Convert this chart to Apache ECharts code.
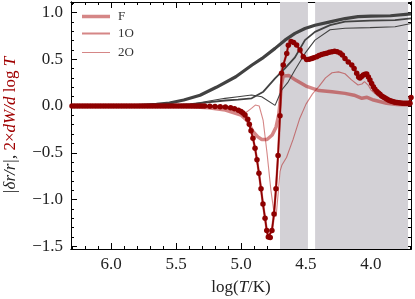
<!DOCTYPE html>
<html><head><meta charset="utf-8">
<script src="https://cdn.jsdelivr.net/npm/echarts@6/dist/echarts.min.js"></script>
<style>html,body{margin:0;padding:0;background:#fff}#c{width:415px;height:299px}</style>
</head><body><div id="c"></div>
<script>
// ---- tick values ----
const xMajorTicks = [4.0, 4.5, 5.0, 5.5, 6.0];
const xMinorTicks = [3.7,3.8,3.9,4.1,4.2,4.3,4.4,4.6,4.7,4.8,4.9,5.1,5.2,5.3,5.4,5.6,5.7,5.8,5.9,6.1,6.2,6.3];
const yMajorTicks = [-1.5, -1.0, -0.5, 0.0, 0.5, 1.0];
const yMinorTicks = [-1.4,-1.3,-1.2,-1.1,-0.9,-0.8,-0.7,-0.6,-0.4,-0.3,-0.2,-0.1,0.1,0.2,0.3,0.4,0.6,0.7,0.8,0.9,1.1];
const legendNames = ['F', '1O', '2O'];
// shaded bands [from, to] in log T
const band1 = [4.70, 4.485];
const band2 = [4.43, 3.715];

// ---- |dr/r| (gray) ----
const grayFLogT = [6.31,5.8,5.65,5.55,5.44,5.315,5.19,5.04,4.915,4.838,4.738,4.662,4.585,4.508,4.431,4.315,4.2,4.1,4.0,3.85,3.692];
const grayFVal  = [0,0.005,0.018,0.032,0.064,0.115,0.2,0.313,0.438,0.509,0.616,0.704,0.776,0.829,0.864,0.9,0.935,0.955,0.962,0.965,0.985];
const gray1OLogT = [6.31,5.6,5.392,5.277,5.123,5.023,4.918,4.828,4.738,4.662,4.585,4.508,4.431,4.315,4.2,4.008,3.815,3.692];
const gray1OVal  = [0,0,0.02,0.037,0.059,0.069,0.082,0.153,0.296,0.402,0.52,0.704,0.793,0.864,0.902,0.913,0.918,0.936];
const gray2OLogT = [6.31,5.6,5.392,5.277,5.123,5.023,4.918,4.841,4.738,4.687,4.638,4.585,4.508,4.431,4.315,4.2,4.008,3.815,3.692];
const gray2OVal  = [0,0,0.016,0.046,0.082,0.099,0.117,0.099,0.007,0.171,0.256,0.384,0.562,0.704,0.816,0.832,0.838,0.848,0.883];

// ---- 2 x dW/dlogT (red) ----
const redFLogT = [6.31,5.6,5.4,5.25,5.12,5.0,4.95,4.91,4.87,4.84,4.80,4.76,4.73,4.71,4.70,4.69,4.675,4.66,4.63,4.58,4.5,4.4,4.3,4.2,4.13,4.07,4.03,3.98,3.88,3.8,3.69];
const redFVal  = [0,0,-0.005,-0.02,-0.043,-0.096,-0.16,-0.27,-0.33,-0.358,-0.358,-0.31,-0.224,-0.096,0.032,0.224,0.32,0.34,0.325,0.277,0.213,0.165,0.152,0.135,0.115,0.082,0.093,0.064,0.029,0.016,0.011];
const red2OLogT = [6.31,5.5,5.3,5.1,4.969,4.92,4.89,4.86,4.83,4.80,4.77,4.745,4.73,4.715,4.70,4.685,4.67,4.65,4.6,4.55,4.5,4.45,4.4,4.35,4.3,4.25,4.2,4.15,4.1,4.07,4.05,4.02,4.0,3.95,3.9,3.85,3.8,3.69];
const red2OVal  = [0,0,-0.005,-0.03,-0.078,-0.025,0.01,0.0,-0.15,-0.5,-0.9,-1.15,-1.18,-0.95,-0.7,-0.63,-0.63,-0.55,-0.36,-0.14,0.02,0.13,0.21,0.3,0.355,0.365,0.345,0.28,0.225,0.235,0.26,0.22,0.17,0.11,0.07,0.045,0.03,0.02];
// 1O work points (dark red markers, also drawn as light 1O line)
const red1OLogT = [6.30,6.28,6.26,6.24,6.22,6.20,6.18,6.16,6.14,6.12,6.10,6.08,6.06,6.04,6.02,6.00,5.98,5.96,5.94,5.92,5.90,5.88,5.86,5.84,5.82,5.80,5.78,5.76,5.74,5.72,5.70,5.68,5.66,5.64,5.62,5.60,5.58,5.56,5.54,5.52,5.50,5.48,5.46,5.44,5.42,5.40,5.38,5.36,5.34,5.32,5.30,5.28,5.24,5.20,5.16,5.12,5.08,5.05,5.02,5.00,4.985,
  4.969,4.948,4.936,4.923,4.908,4.892,4.877,4.862,4.846,4.831,4.815,4.802,4.790,4.775,4.762,4.746,4.731,4.715,4.700,4.688,4.675,4.648,4.636,4.615,4.595,4.572,4.546,4.521,4.495,4.475,4.456,4.44,4.418,4.40,4.38,4.36,4.341,4.32,4.30,4.28,4.26,4.238,4.22,4.20,4.175,4.148,4.13,4.11,4.095,4.085,4.072,4.059,4.046,4.033,4.02,4.008,3.995,3.982,3.97,3.955,3.943,3.931,3.918,3.905,3.892,3.879,3.866,3.853,3.84,3.828,3.815,3.80,3.785,3.77,3.755,3.74,3.725,3.71,3.70,3.692];
const red1OVal = [0,0,0,0,0,0,0,0,0,0,0,0,0,0,0,0,0,0,0,0,0,0,0,0,0,0,0,0,0,0,0,0,0,0,0,0,0,0,0,0,0,0,0,0,0,0,0,0,0,0,0,0,-0.002,-0.005,-0.008,-0.012,-0.02,-0.03,-0.045,-0.06,-0.075,
  -0.096,-0.142,-0.195,-0.264,-0.345,-0.451,-0.576,-0.718,-0.886,-1.049,-1.199,-1.331,-1.401,-1.406,-1.331,-1.156,-0.886,-0.53,-0.104,0.349,0.438,0.562,0.65,0.69,0.68,0.651,0.598,0.526,0.498,0.50,0.509,0.515,0.526,0.54,0.55,0.558,0.565,0.575,0.58,0.585,0.58,0.568,0.545,0.509,0.47,0.438,0.40,0.35,0.31,0.30,0.315,0.331,0.34,0.342,0.31,0.277,0.24,0.206,0.18,0.155,0.14,0.125,0.108,0.095,0.085,0.075,0.065,0.055,0.05,0.045,0.04,0.037,0.034,0.032,0.03,0.03,0.03,0.03,0.03,0.09];

const pairs = (xs, ys) => xs.map((x, i) => [x, ys[i]]);
const X0 = 3.6923, X1 = 6.3077, Y0 = -1.529, Y1 = 1.112;
const serif = 'Liberation Serif';
const fmt = v => (v < 0 ? '\u2212' : '') + Math.abs(v).toFixed(1);

function xAx(pos, vals, len, labels) {
  return {
    type: 'value', min: X0, max: X1, inverse: true, position: pos,
    axisLine: { show: true, onZero: false, lineStyle: { color: '#000', width: 1 } },
    splitLine: { show: false },
    axisTick: { show: true, inside: true, length: len, customValues: vals, lineStyle: { color: '#000', width: 1 } },
    axisLabel: labels ? { show: true, customValues: vals, formatter: fmt, fontFamily: serif, fontSize: 17, color: '#222', margin: 7 } : { show: false },
  };
}
function yAx(pos, vals, len, labels) {
  return {
    type: 'value', min: Y0, max: Y1, position: pos,
    axisLine: { show: true, onZero: false, lineStyle: { color: '#000', width: 1 } },
    splitLine: { show: false },
    axisTick: { show: true, inside: true, length: len, customValues: vals, lineStyle: { color: '#000', width: 1 } },
    axisLabel: labels ? { show: true, customValues: vals, formatter: fmt, fontFamily: serif, fontSize: 17, color: '#222', margin: 8 } : { show: false },
  };
}

const xAxes = [xAx('bottom', xMajorTicks, 6, true), xAx('bottom', xMinorTicks, 3, false), xAx('top', xMajorTicks, 6, false), xAx('top', xMinorTicks, 3, false)];
xAxes[0].name = '{n|log(}{i|T}{n|/K)}';
xAxes[0].nameLocation = 'middle';
xAxes[0].nameGap = 30;
xAxes[0].nameTextStyle = { rich: {
  n: { fontFamily: serif, fontSize: 17, color: '#222' },
  i: { fontFamily: serif, fontSize: 17, fontStyle: 'italic', color: '#222' } } };
const yAxes = [yAx('left', yMajorTicks, 6, true), yAx('left', yMinorTicks, 3, false), yAx('right', yMajorTicks, 6, false), yAx('right', yMinorTicks, 3, false)];
const dr = '#a00000';
yAxes[0].name = '{a||\u03b4r/r|, }{b|2\u00d7}{c|dW/d}{d| log }{c|T}';
yAxes[0].nameLocation = 'middle';
yAxes[0].nameRotate = 90;
yAxes[0].nameGap = 52;
yAxes[0].nameTextStyle = { rich: {
  a: { fontFamily: serif, fontSize: 17, fontStyle: 'italic', color: '#222' },
  b: { fontFamily: serif, fontSize: 17, color: dr },
  c: { fontFamily: serif, fontSize: 17, fontStyle: 'italic', color: dr },
  d: { fontFamily: serif, fontSize: 17, color: dr } } };

const lightRed = 'rgba(178,34,34,0.55)';
const gray = '#424242';
function line(name, data, color, width, z) {
  return { name, type: 'line', data, symbol: 'none', showSymbol: false, color,
    lineStyle: { color, width }, itemStyle: { color }, z, silent: true };
}

const legendTpl = (name, top, h) => ({
  data: [name], left: 82, top, padding: 0, orient: 'vertical', icon: 'rect',
  itemWidth: 28, itemHeight: h, selectedMode: false,
  textStyle: { fontFamily: serif, fontSize: 13, color: '#333', padding: [0, 0, 0, 3] }
});

const option = {
  animation: false,
  backgroundColor: '#fff',
  grid: { left: 71, right: 4, top: 2, bottom: 50, containLabel: false, outerBoundsMode: 'none' },
  xAxis: xAxes,
  yAxis: yAxes,
  legend: [legendTpl(legendNames[0], 10, 3.5), legendTpl(legendNames[1], 27, 2), legendTpl(legendNames[2], 46, 1)],
  series: [
    { name: 'bands', type: 'line', data: [], silent: true, z: 0,
      markArea: { silent: true, itemStyle: { color: '#d3d1d6' },
        data: [[{ xAxis: band1[0] }, { xAxis: band1[1] }], [{ xAxis: band2[0] }, { xAxis: band2[1] }]] } },
    line(legendNames[0], pairs(redFLogT, redFVal), lightRed, 3.5, 2),
    line(legendNames[1], pairs(red1OLogT, red1OVal), lightRed, 2.4, 2),
    line(legendNames[2], pairs(red2OLogT, red2OVal), lightRed, 1.1, 2),
    line('gF', pairs(grayFLogT, grayFVal), gray, 3.2, 3),
    line('g1O', pairs(gray1OLogT, gray1OVal), gray, 1.8, 3),
    line('g2O', pairs(gray2OLogT, gray2OVal), gray, 1.1, 3),
    { name: '1O pts', type: 'line', data: pairs(red1OLogT, red1OVal), symbol: 'circle', symbolSize: 5.5, showSymbol: true,
      showAllSymbol: true, color: '#8e0000', lineStyle: { color: '#8e0000', width: 1.7 }, itemStyle: { color: '#8e0000' }, z: 4, silent: true }
  ]
};
const chart = echarts.init(document.getElementById('c'), null, { renderer: 'canvas', width: 415, height: 299 });
chart.setOption(option);
</script>
</body></html>
